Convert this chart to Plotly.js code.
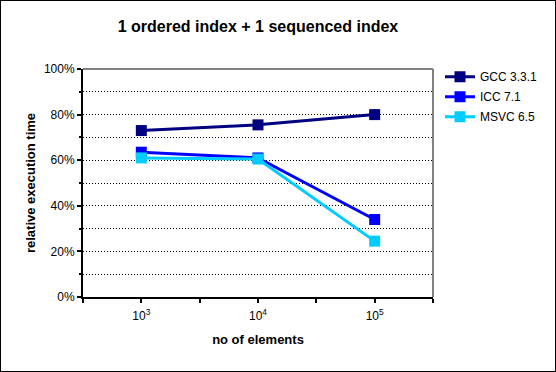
<!DOCTYPE html>
<html>
<head>
<meta charset="utf-8">
<script src="https://cdn.plot.ly/plotly-3.0.1.min.js"></script>
<style>
  html, body { margin: 0; padding: 0; background: #ffffff; }
  #chart { width: 554px; height: 370px; border: 1px solid #000000; }
</style>
</head>
<body>
<div id="chart"></div>
<script>
// Data
const elements = [1e3, 1e4, 1e5];                 // no of elements
const gcc  = [0.73, 0.755, 0.80];                 // GCC 3.3.1
const icc  = [0.635, 0.61, 0.34];                 // ICC 7.1
const msvc = [0.61, 0.605, 0.245];                // MSVC 6.5
const seriesNames = ['GCC 3.3.1', 'ICC 7.1', 'MSVC 6.5'];
const tickValues = [Math.pow(10, 2.5), 1e3, Math.pow(10, 3.5), 1e4, Math.pow(10, 4.5), 1e5, Math.pow(10, 5.5)];
const tickLabels = ['', '10<sup>3</sup>', '', '10<sup>4</sup>', '', '10<sup>5</sup>', ''];

const FONT = 'Arial, "Liberation Sans", sans-serif';
const colors = ['#000080', '#0000FF', '#00CCFF'];
const seriesData = [gcc, icc, msvc];

const traces = seriesData.map((vals, i) => ({
  x: elements,
  y: vals,
  name: seriesNames[i],
  type: 'scatter',
  mode: 'lines+markers',
  line: { color: colors[i], width: 3 },
  marker: { symbol: 'square', size: 11, color: colors[i], line: { width: 0 } },
  legendgroup: 'g' + i
}));

const layout = {
  width: 554,
  height: 370,
  paper_bgcolor: '#ffffff',
  plot_bgcolor: '#ffffff',
  margin: { l: 82, r: 119, t: 68, b: 74 },
  font: { family: FONT, size: 12, color: '#000000' },
  title: {
    text: '1 ordered index + 1 sequenced index',
    font: { family: FONT, size: 16, color: '#000000', weight: 'bold' },
    xref: 'paper', x: 0.5, xanchor: 'center',
    yref: 'container', y: 1 - 25 / 370, yanchor: 'middle'
  },
  xaxis: {
    type: 'log',
    range: [2.5, 5.5],
    tickmode: 'array',
    tickvals: tickValues,
    ticktext: tickLabels,
    ticks: 'outside', ticklen: 4, tickwidth: 2, tickcolor: '#000000',
    ticklabelstandoff: 3,
    showgrid: false, zeroline: false,
    showline: true, linecolor: '#000000', linewidth: 2,
    tickfont: { family: FONT, size: 12, color: '#000000' },
    title: { text: 'no of elements', font: { family: FONT, size: 13, weight: 'bold', color: '#000000' }, standoff: 12 },
    automargin: false
  },
  yaxis: {
    range: [0, 1],
    tickmode: 'linear', tick0: 0, dtick: 0.2,
    tickformat: '.0%',
    ticks: 'outside', ticklen: 4, tickwidth: 2, tickcolor: '#000000',
    showgrid: true, gridcolor: '#000000', gridwidth: 1, griddash: '1px,2px',
    minor: { dtick: 0.1, tick0: 0, ticks: 'outside', ticklen: 2, tickwidth: 2, tickcolor: '#000000',
             showgrid: true, gridcolor: '#000000', gridwidth: 1, griddash: '1px,2px' },
    zeroline: false,
    showline: true, linecolor: '#000000', linewidth: 2,
    tickfont: { family: FONT, size: 12, color: '#000000' },
    title: { text: 'relative execution time', font: { family: FONT, size: 13, weight: 'bold', color: '#000000' }, standoff: 5 },
    automargin: false
  },
  legend: {
    x: 1.02, xanchor: 'left', y: 1.03, yanchor: 'top',
    bgcolor: 'rgba(0,0,0,0)',
    font: { family: FONT, size: 12, color: '#000000' },
    tracegroupgap: 1
  },
  shapes: [
    { type: 'line', xref: 'paper', yref: 'paper', x0: 0, x1: 1, y0: 1, y1: 1, line: { color: '#808080', width: 2 }, layer: 'above' },
    { type: 'line', xref: 'paper', yref: 'paper', x0: 1, x1: 1, y0: 0, y1: 1, line: { color: '#808080', width: 2 }, layer: 'above' }
  ],
  showlegend: true
};

Plotly.newPlot('chart', traces, layout, { displayModeBar: false, staticPlot: true });
</script>
</body>
</html>
